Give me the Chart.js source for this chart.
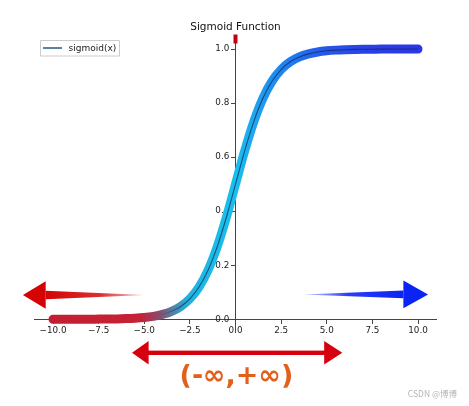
<!DOCTYPE html>
<html>
<head>
<meta charset="utf-8">
<script src="https://cdn.jsdelivr.net/npm/chart.js@4.4.1/dist/chart.umd.min.js"></script>
<style>
  html, body { margin: 0; padding: 0; background: #ffffff; }
  #wrap { width: 469px; height: 406px; }
</style>
</head>
<body>
<div id="wrap"><canvas id="c" width="469" height="406"></canvas></div>
<script>
// ---- data ----
const xValues = [-10, -9.5, -9, -8.5, -8, -7.5, -7, -6.5, -6, -5.5, -5, -4.5, -4, -3.5, -3, -2.5, -2, -1.5, -1, -0.5,
                 0, 0.5, 1, 1.5, 2, 2.5, 3, 3.5, 4, 4.5, 5, 5.5, 6, 6.5, 7, 7.5, 8, 8.5, 9, 9.5, 10];
const sigmoidValues = [0.0000, 0.0001, 0.0001, 0.0002, 0.0003, 0.0006, 0.0009, 0.0015, 0.0025, 0.0041, 0.0067,
                       0.0110, 0.0180, 0.0293, 0.0474, 0.0759, 0.1192, 0.1824, 0.2689, 0.3775,
                       0.5000, 0.6225, 0.7311, 0.8176, 0.8808, 0.9241, 0.9526, 0.9707, 0.9820, 0.9890,
                       0.9933, 0.9959, 0.9975, 0.9985, 0.9991, 0.9994, 0.9997, 0.9998, 0.9999, 0.9999, 1.0000];
const xTickValues = [-10, -7.5, -5, -2.5, 0, 2.5, 5, 7.5, 10];
const yTickValues = [0, 0.2, 0.4, 0.6, 0.8, 1.0];
const titleText = 'Sigmoid Function';
const seriesLabel = 'sigmoid(x)';
const rangeText = '(-\u221E,+\u221E)';
const watermarkText = 'CSDN @\u535A\u535A';

const points = xValues.map((x, i) => ({ x: x, y: sigmoidValues[i] }));
const fmt = v => Number(v).toFixed(1).replace('-', '\u2212');

function thickGradient(chart) {
  const area = chart.chartArea;
  if (!area) return '#c41e32';
  const xs = chart.scales.x;
  const g = chart.ctx.createLinearGradient(xs.getPixelForValue(-10), 0, xs.getPixelForValue(10), 0);
  g.addColorStop(0.00, '#c41e32');
  g.addColorStop(0.24, '#c42236');
  g.addColorStop(0.29, '#8c4a6c');
  g.addColorStop(0.33, '#4f84a6');
  g.addColorStop(0.37, '#1fb4e0');
  g.addColorStop(0.50, '#18c0ec');
  g.addColorStop(0.55, '#1ea6ee');
  g.addColorStop(0.60, '#1e8ef0');
  g.addColorStop(0.66, '#1f78f0');
  g.addColorStop(0.74, '#2558ea');
  g.addColorStop(0.86, '#2a40e8');
  g.addColorStop(1.00, '#2b36e6');
  return g;
}
function thinGradient(chart) {
  const area = chart.chartArea;
  if (!area) return 'rgba(20,40,90,0.8)';
  const xs = chart.scales.x;
  const g = chart.ctx.createLinearGradient(xs.getPixelForValue(-10), 0, xs.getPixelForValue(10), 0);
  g.addColorStop(0.00, 'rgba(20,40,90,0)');
  g.addColorStop(0.28, 'rgba(20,40,90,0)');
  g.addColorStop(0.36, 'rgba(20,40,90,0.75)');
  g.addColorStop(1.00, 'rgba(20,40,100,0.75)');
  return g;
}

function arrowPoly(ctx, pts, fill) {
  ctx.beginPath();
  ctx.moveTo(pts[0][0], pts[0][1]);
  for (let i = 1; i < pts.length; i++) ctx.lineTo(pts[i][0], pts[i][1]);
  ctx.closePath();
  ctx.fillStyle = fill;
  ctx.fill();
}

const decorPlugin = {
  id: 'decor',
  afterDraw(chart) {
    const ctx = chart.ctx;
    const xs = chart.scales.x, ys = chart.scales.y;
    const area = chart.chartArea;
    ctx.save();

    // red marker at the top of the y axis
    const x0 = xs.getPixelForValue(0);
    ctx.fillStyle = '#c00012';
    ctx.fillRect(x0 - 2, area.top - 1, 4, 9);

    // left red arrow (tapered)
    {
      const y = ys.getPixelForValue(0.09);
      const tail = xs.getPixelForValue(-4.95);
      const base = xs.getPixelForValue(-10.4);
      const tip = xs.getPixelForValue(-11.65);
      const g = ctx.createLinearGradient(tail, 0, base, 0);
      g.addColorStop(0, 'rgba(215,40,40,0.25)');
      g.addColorStop(0.45, 'rgba(212,10,10,0.85)');
      g.addColorStop(1, '#d40404');
      arrowPoly(ctx, [[tail, y], [base, y - 4.3], [base, y + 4.3]], g);
      arrowPoly(ctx, [[base, y - 13.8], [tip, y], [base, y + 13.8]], '#d40404');
    }
    // right blue arrow (tapered)
    {
      const y = ys.getPixelForValue(0.092);
      const tail = xs.getPixelForValue(3.7);
      const base = xs.getPixelForValue(9.2);
      const tip = xs.getPixelForValue(10.55);
      const g = ctx.createLinearGradient(tail, 0, base, 0);
      g.addColorStop(0, 'rgba(60,80,250,0.3)');
      g.addColorStop(0.45, 'rgba(20,40,245,0.9)');
      g.addColorStop(1, '#0a24f5');
      arrowPoly(ctx, [[tail, y], [base, y - 3.9], [base, y + 3.9]], g);
      arrowPoly(ctx, [[base, y - 13.8], [tip, y], [base, y + 13.8]], '#0a24f5');
    }
    // double-headed red arrow below the axis
    {
      const y = ys.getPixelForValue(-0.124);
      const lt = xs.getPixelForValue(-5.67);
      const lb = xs.getPixelForValue(-4.76);
      const rb = xs.getPixelForValue(4.86);
      const rt = xs.getPixelForValue(5.85);
      ctx.fillStyle = '#d6000e';
      ctx.fillRect(lb - 1, y - 2.2, rb - lb + 2, 4.4);
      arrowPoly(ctx, [[lb, y - 11.8], [lt, y], [lb, y + 11.8]], '#d6000e');
      arrowPoly(ctx, [[rb, y - 11.8], [rt, y], [rb, y + 11.8]], '#d6000e');
    }
    // (-inf,+inf) text
    ctx.font = 'bold 27px "DejaVu Sans"';
    ctx.fillStyle = '#e2601c';
    ctx.textAlign = 'center';
    ctx.textBaseline = 'middle';
    ctx.fillText(rangeText, xs.getPixelForValue(0.05), ys.getPixelForValue(-0.215));

    // legend box
    ctx.fillStyle = 'rgba(255,255,255,0.8)';
    ctx.strokeStyle = '#cccccc';
    ctx.lineWidth = 1;
    ctx.beginPath();
    ctx.rect(40.5, 40.5, 79, 15.5);
    ctx.fill();
    ctx.stroke();
    ctx.strokeStyle = '#24578a';
    ctx.lineWidth = 1.5;
    ctx.beginPath();
    ctx.moveTo(43, 48);
    ctx.lineTo(62, 48);
    ctx.stroke();
    ctx.font = '9px "DejaVu Sans"';
    ctx.fillStyle = '#222222';
    ctx.textAlign = 'left';
    ctx.textBaseline = 'middle';
    ctx.fillText(chart.data.datasets[1].label, 68.5, 48.5);

    // watermark
    ctx.font = '8.5px "Noto Sans CJK SC"';
    ctx.fillStyle = '#b4b4b4';
    ctx.textAlign = 'right';
    ctx.fillText(watermarkText, 457, 393.5);

    ctx.restore();
  }
};

const axisCommon = {
  grid: { display: true, drawOnChartArea: false, drawTicks: true, tickLength: 4, color: '#333333', tickWidth: 0.9 },
  border: { display: true, color: '#444444', width: 1 },
};

new Chart(document.getElementById('c'), {
  type: 'scatter',
  data: {
    datasets: [
      {
        label: 'thick',
        data: points,
        order: 2,
        showLine: true,
        borderWidth: 9,
        borderCapStyle: 'round',
        borderJoinStyle: 'round',
        borderColor: ctx => thickGradient(ctx.chart),
        pointRadius: 0,
        cubicInterpolationMode: 'monotone',
        fill: false
      },
      {
        label: seriesLabel,
        data: points,
        order: 1,
        showLine: true,
        borderWidth: 1.1,
        borderColor: ctx => thinGradient(ctx.chart),
        pointRadius: 0,
        cubicInterpolationMode: 'monotone',
        fill: false
      }
    ]
  },
  options: {
    responsive: false,
    devicePixelRatio: 1,
    animation: false,
    events: [],
    layout: { padding: { left: 34.75, right: 32.75, top: 0, bottom: 73.2 } },
    plugins: {
      legend: { display: false },
      tooltip: { enabled: false },
      title: {
        display: true,
        text: titleText,
        color: '#111111',
        font: { family: 'DejaVu Sans', size: 10.5, weight: 'normal', lineHeight: 1.2 },
        padding: { top: 20.9, bottom: 2.0 }
      }
    },
    scales: {
      x: Object.assign({}, axisCommon, {
        type: 'linear',
        min: -11, max: 11,
        position: { y: 0 },
        afterBuildTicks: axis => { axis.ticks = xTickValues.map(v => ({ value: v })); },
        ticks: {
          callback: v => fmt(v),
          font: { family: 'DejaVu Sans', size: 8.8 },
          color: '#222222',
          padding: 2.5,
          maxRotation: 0,
          autoSkip: false
        }
      }),
      y: Object.assign({}, axisCommon, {
        type: 'linear',
        min: -0.05, max: 1.05,
        position: { x: 0 },
        afterBuildTicks: axis => { axis.ticks = yTickValues.map(v => ({ value: v })); },
        ticks: {
          callback: v => fmt(v) + '\u2002\u2009',
          font: { family: 'DejaVu Sans', size: 8.8 },
          color: '#222222',
          padding: 2.5,
          autoSkip: false
        }
      })
    }
  },
  plugins: [decorPlugin]
});
</script>
</body>
</html>
